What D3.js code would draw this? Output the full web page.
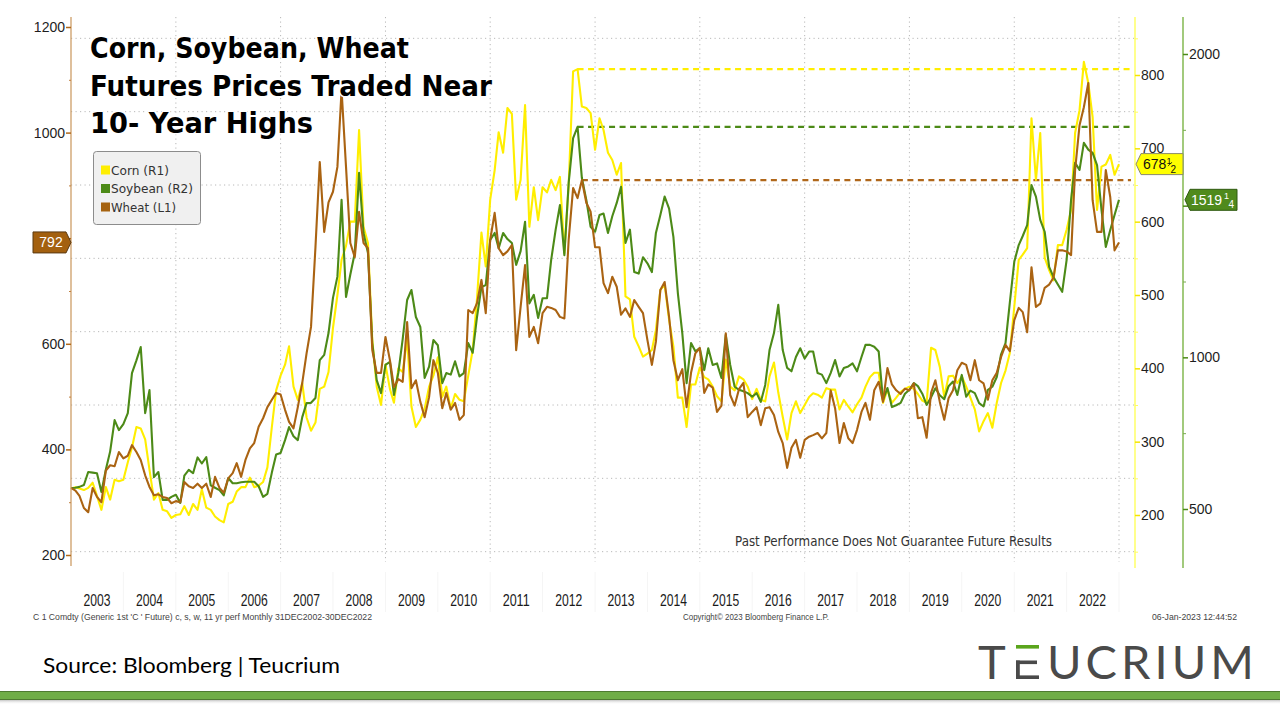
<!DOCTYPE html>
<html><head><meta charset="utf-8">
<script src="https://cdn.jsdelivr.net/npm/d3@7"></script>
<style>
html,body{margin:0;padding:0;background:#fff;}
svg{display:block;}
</style></head><body>
<svg id="chart" width="1280" height="720"></svg>
<script>
// ---------------- DATA (monthly closes, Dec 2002 .. Dec 2022, cents/bu) ----------------
const firstMonth = "2003-01-01";   // observation for 31DEC2002 plotted at year start
const lastMonth  = "2023-01-01";   // observation for 30DEC2022
const years = [2003,2004,2005,2006,2007,2008,2009,2010,2011,2012,2013,2014,2015,2016,2017,2018,2019,2020,2021,2022];

const corn = [236,
 238,236,234,237,244,226,207,238,221,248,246,248,
 272,292,320,318,303,262,221,230,207,205,196,200,
 201,212,200,215,207,235,210,207,198,193,190,215,
 218,232,238,238,251,238,240,245,265,320,370,390,
 405,430,375,357,380,333,315,326,372,375,395,455,
 500,548,567,600,600,725,593,571,439,375,350,405,
 372,353,400,395,440,348,320,330,345,375,390,415,
 361,375,345,365,357,355,390,425,495,585,539,630,
 670,722,694,755,747,630,657,759,593,647,602,647,
 640,657,643,661,557,650,805,808,757,755,748,698,
 741,725,694,684,664,680,498,494,443,430,416,420,
 425,452,507,514,466,430,360,360,320,378,378,401,
 388,385,375,362,355,412,375,370,389,385,375,358,
 372,357,355,389,408,367,334,303,339,355,339,350,
 361,366,364,360,373,371,371,344,357,348,340,351,
 360,375,388,394,394,353,371,353,360,368,372,375,
 372,365,356,353,428,425,402,361,389,390,380,389,
 375,360,344,314,328,339,319,353,380,397,421,484,
 548,555,564,741,657,721,551,534,520,568,568,589,
 616,721,752,818,789,743,616,675,678,691,664,678.5];

const soybean = [569,
 570,573,579,622,620,618,556,630,690,793,760,780,
 816,948,990,1034,816,892,605,622,530,530,540,547,
 520,610,629,618,670,650,671,578,570,562,545,602,
 585,585,588,590,590,590,575,540,550,620,680,685,
 727,770,740,727,803,849,850,866,991,1008,1080,1196,
 1266,1519,1199,1273,1344,1608,1410,1344,1047,925,882,975,
 985,876,950,1060,1189,1222,1133,1100,932,969,1057,1040,
 915,948,943,987,937,948,1047,1015,1133,1232,1238,1387,
 1410,1360,1410,1390,1377,1305,1350,1447,1178,1206,1130,1195,
 1195,1321,1420,1502,1337,1575,1723,1760,1591,1519,1430,1414,
 1469,1474,1410,1465,1509,1562,1377,1421,1281,1276,1330,1310,
 1281,1410,1469,1530,1490,1397,1212,1080,915,1047,1020,1030,
 958,1030,975,980,932,1074,975,903,893,888,882,870,
 882,853,909,1024,1080,1173,1024,965,954,1001,1030,996,
 1019,1019,948,943,915,948,991,937,965,970,980,954,
 1001,1041,1041,1035,1019,859,899,836,842,850,880,893,
 915,905,880,843,868,898,875,862,905,920,876,942,
 870,890,882,849,838,893,903,935,1010,1047,1180,1315,
 1370,1400,1436,1568,1530,1453,1414,1298,1265,1240,1216,1321,
 1519,1641,1618,1707,1685,1674,1634,1486,1364,1420,1469,1519.25];

const wheat = [327,
 322,312,289,281,327,310,300,360,370,368,395,383,
 388,408,395,380,351,329,313,315,310,308,298,302,
 300,338,330,327,335,327,335,310,348,327,318,345,
 355,374,348,380,402,412,443,459,480,494,507,504,
 475,452,440,480,526,582,632,783,944,812,868,888,
 935,1081,935,791,764,850,791,781,588,545,545,613,
 569,518,533,528,641,516,531,490,461,499,569,545,
 478,507,475,488,456,465,664,658,677,721,658,797,
 848,781,768,775,787,588,670,749,613,632,601,658,
 670,668,664,651,648,797,895,876,910,867,850,783,
 783,715,696,727,708,655,667,651,683,670,658,607,
 560,604,702,717,651,569,531,552,480,545,582,592,
 507,523,517,471,483,620,503,483,514,526,461,471,
 480,446,478,480,465,433,412,365,403,418,384,418,
 424,427,431,421,431,512,478,412,450,421,412,437,
 471,488,456,512,528,490,554,523,512,505,515,512,
 525,459,461,422,507,531,490,456,497,512,550,564,
 560,531,569,531,525,494,531,545,575,598,586,645,
 668,660,622,745,670,676,706,712,725,777,777,775,
 768,929,1014,1048,1094,872,812,812,929,878,777,792];

// tick values (labels hidden behind last-value tags are drawn as tick marks only)
const wheatTicks = [200,400,600,800,1000,1200];
const wheatHiddenLabel = [800];
const wheatMinor = [300,500,700,900,1100];
const cornTicks = [200,300,400,500,600,700,800];
const cornMinor = [150,250,350,450,550,650,750,850];
const soyTicks = [500,1000,1500,2000];
const soyHiddenLabel = [1500];
const soyMinor = [750,1250,1750];
const highFrom = 108; // 10-year-high lines measured from 2012 onward
const highTo = 228;

const seriesNames = ["Corn (R1)","Soybean (R2)","Wheat (L1)"];
const colors = {corn:"#ffee00", soy:"#4c8a17", wheat:"#aa6312"};
const lastLabels = {wheat:"792", corn:["678","1","2"], soy:["1519","1","4"]};

// ---------------- SCALES ----------------
const svg = d3.select("#chart");
const dates = d3.timeMonth.range(new Date(firstMonth+"T00:00:00"), d3.timeDay.offset(new Date(lastMonth+"T00:00:00"),1));
const x = d3.scaleTime().domain([new Date(2003,0,1), new Date(2023,0,1)]).range([71,1119]);
const yW = d3.scaleLinear().domain([200,1200]).range([555,27]);
const yC = d3.scaleLinear().domain([200,800]).range([515,75]);
const yS = d3.scaleLinear().domain([500,2000]).range([509,54]);
const L = 71, R = 1135, T = 17, B = 562;

const axisFont = "'Liberation Sans', Arial, sans-serif";

// ---------------- GRID ----------------
const grid = svg.append("g");
grid.selectAll("line.h").data(cornMinor).join("line")
  .attr("x1",L).attr("x2",R).attr("y1",d=>yC(d)).attr("y2",d=>yC(d))
  .attr("stroke","#b8b8b8").attr("stroke-width",1).attr("stroke-dasharray","1.2,3.3");
const gridYears = years.filter(y=>y%2===1 && y>2003).map(y=>new Date(y,0,1)).concat([new Date(2023,0,1)]);
grid.selectAll("line.v").data(gridYears).join("line")
  .attr("x1",d=>x(d)).attr("x2",d=>x(d)).attr("y1",T).attr("y2",B)
  .attr("stroke","#b8b8b8").attr("stroke-width",1).attr("stroke-dasharray","1.2,3.3");

// faint separators under the x labels
svg.append("g").selectAll("line").data(years.slice(1).concat([2023])).join("line")
  .attr("x1",d=>x(new Date(d,0,1))).attr("x2",d=>x(new Date(d,0,1)))
  .attr("y1",572).attr("y2",612).attr("stroke","#f5f5f5");

// ---------------- HIGH LINES ----------------
function highLine(arr, yscale, color){
  let idx = highFrom;
  for(let i=highFrom;i<=highTo;i++){ if(arr[i]>arr[idx]) idx=i; }
  svg.append("line").attr("x1",x(dates[idx])).attr("x2",1131)
    .attr("y1",yscale(arr[idx])).attr("y2",yscale(arr[idx]))
    .attr("stroke",color).attr("stroke-width",2.2).attr("stroke-dasharray","6,4.5");
}
highLine(corn,yC,"#ffee00");
highLine(soybean,yS,colors.soy);
highLine(wheat,yW,"#b0671a");

// ---------------- LINES ----------------
function drawLine(arr, yscale, color){
  svg.append("path").datum(arr)
    .attr("d", d3.line().x((d,i)=>x(dates[i])).y(d=>yscale(d)))
    .attr("fill","none").attr("stroke",color).attr("stroke-width",2.1)
    .attr("stroke-linejoin","round");
}
drawLine(corn,yC,colors.corn);
drawLine(soybean,yS,colors.soy);
drawLine(wheat,yW,colors.wheat);

// ---------------- AXES ----------------
function styleAxis(g, tickColor, hidden){
  g.select(".domain").remove();
  g.selectAll(".tick line").attr("stroke",tickColor).attr("stroke-width",1.5);
  g.selectAll(".tick text").attr("fill","#1e1e1e").style("font-family",axisFont).style("font-size","14px");
  g.selectAll(".tick").filter(d=>hidden.includes(d)).select("text").remove();
}
// left (wheat)
svg.append("line").attr("x1",L).attr("x2",L).attr("y1",T).attr("y2",566).attr("stroke","#c9955a").attr("stroke-width",1.2);
const gL = svg.append("g").attr("transform",`translate(${L},0)`)
  .call(d3.axisLeft(yW).tickValues(wheatTicks).tickSize(5).tickPadding(1).tickFormat(d3.format("d")));
styleAxis(gL,"#b06a1c",wheatHiddenLabel);
svg.append("g").attr("transform",`translate(${L},0)`)
  .call(d3.axisLeft(yW).tickValues(wheatMinor).tickSize(2).tickFormat(""))
  .call(g=>{g.select(".domain").remove(); g.selectAll("line").attr("stroke","#c08040");});

// right 1 (corn)
svg.append("line").attr("x1",R).attr("x2",R).attr("y1",T).attr("y2",568).attr("stroke","#ffff70").attr("stroke-width",1.6);
const gC = svg.append("g").attr("transform",`translate(${R},0)`)
  .call(d3.axisRight(yC).tickValues(cornTicks).tickSize(5).tickPadding(1).tickFormat(d3.format("d")));
styleAxis(gC,"#f5e400",[]);
svg.append("g").attr("transform",`translate(${R},0)`)
  .call(d3.axisRight(yC).tickValues(cornMinor).tickSize(3).tickFormat(""))
  .call(g=>{g.select(".domain").remove(); g.selectAll("line").attr("stroke","#ffff60");});

// right 2 (soybean)
const R2 = 1183;
svg.append("line").attr("x1",R2).attr("x2",R2).attr("y1",T).attr("y2",568).attr("stroke","#8bbd5c").attr("stroke-width",1.6);
const gS = svg.append("g").attr("transform",`translate(${R2},0)`)
  .call(d3.axisRight(yS).tickValues(soyTicks).tickSize(5).tickPadding(1).tickFormat(d3.format("d")));
styleAxis(gS,"#4c8a17",soyHiddenLabel);
svg.append("g").attr("transform",`translate(${R2},0)`)
  .call(d3.axisRight(yS).tickValues(soyMinor).tickSize(3).tickFormat(""))
  .call(g=>{g.select(".domain").remove(); g.selectAll("line").attr("stroke","#7aab50");});

// x labels
svg.append("g").selectAll("text").data(years).join("text")
  .attr("x",d=>x(new Date(d,6,1))).attr("y",606).attr("text-anchor","middle")
  .attr("textLength",27).attr("lengthAdjust","spacingAndGlyphs")
  .style("font-family","'Liberation Sans Narrow', "+axisFont).style("font-size","17px").attr("fill","#1a1a1a")
  .text(d=>d);

// ---------------- LAST VALUE TAGS ----------------
// wheat (left)
{
  const cy = yW(wheat[wheat.length-1]);
  svg.append("path").attr("d",`M33,${cy-10.5}H66L71,${cy}L66,${cy+10.5}H33Z`)
    .attr("fill","#a3600f").attr("stroke","#5b3a12").attr("stroke-width",1);
  svg.append("text").attr("x",51).attr("y",cy+5).attr("text-anchor","middle")
    .style("font-family",axisFont).style("font-size","14px").attr("fill","#fff").text(lastLabels.wheat);
}
// corn (right 1)
{
  const cy = yC(corn[corn.length-1]);
  svg.append("path").attr("d",`M1136,${cy}L1141,${cy-10.5}H1183V${cy+10.5}H1141Z`)
    .attr("fill","#ffff00").attr("stroke","#8a8a6a").attr("stroke-width",1);
  svg.append("text").attr("x",1143).attr("y",cy+5).style("font-family",axisFont).style("font-size","14px").attr("fill","#111").text(lastLabels.corn[0]);
  svg.append("text").attr("x",1166.5).attr("y",cy-0.5).style("font-family",axisFont).style("font-size","9px").attr("fill","#111").text(lastLabels.corn[1]);
  svg.append("text").attr("x",1170.5).attr("y",cy+8.5).style("font-family",axisFont).style("font-size","10px").attr("fill","#111").text(lastLabels.corn[2]);
  svg.append("line").attr("x1",1168).attr("x2",1172).attr("y1",cy+2).attr("y2",cy-2).attr("stroke","#111").attr("stroke-width",0.8);
}
// soybean (right 2)
{
  const cy = yS(soybean[soybean.length-1]);
  svg.append("path").attr("d",`M1185,${cy}L1190,${cy-10.5}H1237V${cy+10.5}H1190Z`)
    .attr("fill","#4f8a1c").attr("stroke","#2f5a10").attr("stroke-width",1);
  svg.append("text").attr("x",1191).attr("y",cy+5).style("font-family",axisFont).style("font-size","14px").attr("fill","#fff").text(lastLabels.soy[0]);
  svg.append("text").attr("x",1224).attr("y",cy-0.5).style("font-family",axisFont).style("font-size","9px").attr("fill","#fff").text(lastLabels.soy[1]);
  svg.append("text").attr("x",1228.5).attr("y",cy+8.5).style("font-family",axisFont).style("font-size","10px").attr("fill","#fff").text(lastLabels.soy[2]);
}

// ---------------- TITLE ----------------
const titleLines = [["Corn, Soybean, Wheat",58,319],["Futures Prices Traded Near",96,402],["10- Year Highs",133,223]];
svg.append("g").selectAll("text").data(titleLines).join("text")
  .attr("x",90).attr("y",d=>d[1]).attr("textLength",d=>d[2]).attr("lengthAdjust","spacingAndGlyphs")
  .style("font-family","'DejaVu Sans', Verdana, sans-serif").style("font-weight","bold").style("font-size","28.5px")
  .attr("fill","#000").attr("stroke","#fff").attr("stroke-width",3).attr("paint-order","stroke")
  .attr("stroke-linejoin","round")
  .text(d=>d[0]);

// ---------------- LEGEND ----------------
const lg = svg.append("g");
lg.append("rect").attr("x",93.5).attr("y",151.5).attr("width",107).attr("height",73).attr("rx",3)
  .attr("fill","#f0f0f0").attr("stroke","#8c8c8c").attr("stroke-width",1);
const legendSw = [colors.corn, colors.soy, "#a5620f"];
const legendW = [58,82,65];
seriesNames.forEach((n,i)=>{
  const cy = 170 + i*18.5;
  lg.append("rect").attr("x",101).attr("y",cy-4.5).attr("width",9).attr("height",9).attr("fill",legendSw[i]);
  lg.append("text").attr("x",111).attr("y",cy+4.5).attr("textLength",legendW[i]).attr("lengthAdjust","spacingAndGlyphs")
    .style("font-family","'DejaVu Sans', Verdana, sans-serif").style("font-size","12.5px").attr("fill","#333").text(n);
});

// ---------------- ANNOTATIONS ----------------
svg.append("text").attr("x",735).attr("y",546).attr("textLength",317).attr("lengthAdjust","spacingAndGlyphs")
  .style("font-family","'DejaVu Sans', Tahoma, sans-serif").style("font-size","13.5px").attr("fill","#333")
  .text("Past Performance Does Not Guarantee Future Results");

const footFont = "'Liberation Sans Narrow', 'Liberation Sans', Arial, sans-serif";
svg.append("text").attr("x",33).attr("y",620).attr("textLength",339).attr("lengthAdjust","spacingAndGlyphs")
  .style("font-family",footFont).style("font-size","9.5px").attr("fill","#444")
  .text("C 1 Comdty (Generic 1st 'C ' Future) c, s, w, 11 yr perf  Monthly 31DEC2002-30DEC2022");
svg.append("text").attr("x",683).attr("y",620).attr("textLength",146).attr("lengthAdjust","spacingAndGlyphs")
  .style("font-family",footFont).style("font-size","9.5px").attr("fill","#444")
  .text("Copyright\u00A9 2023 Bloomberg Finance L.P.");
svg.append("text").attr("x",1152).attr("y",620).attr("textLength",85).attr("lengthAdjust","spacingAndGlyphs")
  .style("font-family",footFont).style("font-size","9.5px").attr("fill","#444")
  .text("06-Jan-2023 12:44:52");

svg.append("text").attr("x",43).attr("y",673).attr("textLength",297).attr("lengthAdjust","spacingAndGlyphs")
  .style("font-family","Lato, 'Open Sans', sans-serif").style("font-size","21px").attr("fill","#000")
  .text("Source: Bloomberg | Teucrium");

// ---------------- LOGO ----------------
const logoGray = "#4a4a4a";
svg.append("text").attr("x",978).attr("y",679).style("font-family","Lato, 'Open Sans', sans-serif")
  .style("font-size","47px").attr("fill",logoGray).text("T");
svg.append("rect").attr("x",1016).attr("y",645).attr("width",23).attr("height",3.6).attr("fill","#5aa51c");
svg.append("rect").attr("x",1016).attr("y",660.5).attr("width",21).attr("height",3.6).attr("fill",logoGray);
svg.append("rect").attr("x",1016).attr("y",660.5).attr("width",3.8).attr("height",18.5).attr("fill",logoGray);
svg.append("rect").attr("x",1016).attr("y",675.4).attr("width",23).attr("height",3.6).attr("fill",logoGray);
svg.append("text").attr("x",1047).attr("y",679).attr("textLength",207).attr("lengthAdjust","spacing")
  .style("font-family","Lato, 'Open Sans', sans-serif").style("font-size","47px").attr("fill",logoGray).text("UCRIUM");

// ---------------- BOTTOM BAR ----------------
const defs = svg.append("defs");
const grad = defs.append("linearGradient").attr("id","sh").attr("x1",0).attr("x2",0).attr("y1",0).attr("y2",1);
grad.append("stop").attr("offset","0").attr("stop-color","#9a9a9a").attr("stop-opacity",0.7);
grad.append("stop").attr("offset","1").attr("stop-color","#ffffff").attr("stop-opacity",0);
svg.append("rect").attr("x",0).attr("y",699.5).attr("width",1280).attr("height",5).attr("fill","url(#sh)");
svg.append("rect").attr("x",-1).attr("y",691.5).attr("width",1282).attr("height",8).attr("fill","#70ad47").attr("stroke","#4f7a31").attr("stroke-width",1);
</script>
</body></html>
